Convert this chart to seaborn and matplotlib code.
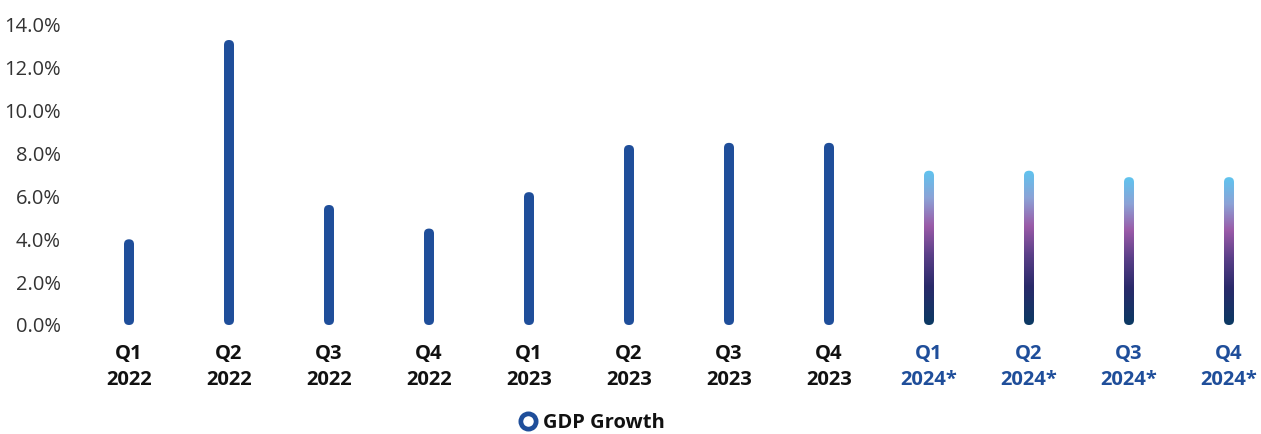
import numpy as np
import pandas as pd
import matplotlib
matplotlib.use("Agg")
import matplotlib.pyplot as plt
import seaborn as sns
from matplotlib.patches import FancyBboxPatch
from matplotlib.colors import LinearSegmentedColormap
from matplotlib.lines import Line2D

# Quarterly GDP growth (%), 2024 values are forecasts
quarters = ["Q1", "Q2", "Q3", "Q4"] * 3
years = ["2022"] * 4 + ["2023"] * 4 + ["2024*"] * 4
growth = [4.0, 13.3, 5.6, 4.5, 6.2, 8.4, 8.5, 8.5, 7.2, 7.2, 6.9, 6.9]
forecast = [False] * 8 + [True] * 4
y_ticks = [0, 2, 4, 6, 8, 10, 12, 14]

BLUE = "#1f4e9a"
TEXT = "#111111"

sns.set_theme(style="white")
plt.rcParams["font.family"] = ["Open Sans", "DejaVu Sans"]

df = pd.DataFrame({
    "label": [f"{q}\n{y}" for q, y in zip(quarters, years)],
    "growth": growth,
    "forecast": forecast,
})

W, H = 1261, 434
fig = plt.figure(figsize=(W / 100, H / 100), dpi=100)
ax = fig.add_axes([79 / W, (H - 325) / H, (W - 79) / W, 300 / H])

sns.barplot(data=df, x="label", y="growth", width=0.1, color=BLUE,
            saturation=1, ax=ax)

ax.set_xlim(-0.5, 11.32)
ax.set_ylim(0, 14)

# pixel scale used to keep the bar ends circular
px_x = (ax.get_xlim()[1] - ax.get_xlim()[0]) / (W - 79)
px_y = (ax.get_ylim()[1] - ax.get_ylim()[0]) / 300
aspect = px_y / px_x

grad = LinearSegmentedColormap.from_list(
    "fc", [(0.0, "#0b3a63"), (0.25, "#2a2a6a"), (0.45, "#5a3f88"),
           (0.64, "#9a5ba8"), (0.82, "#8ca2d6"), (1.0, "#5fc4ef")])

bars = list(ax.patches)
for bar, is_fc, val in zip(bars, df["forecast"], df["growth"]):
    x0, w, h = bar.get_x(), bar.get_width(), bar.get_height()
    bar.remove()
    rnd = FancyBboxPatch((x0, 0), w, h,
                         boxstyle=f"round,pad=0,rounding_size={w / 2}",
                         mutation_aspect=aspect,
                         facecolor=BLUE, edgecolor="none", clip_on=False)
    ax.add_patch(rnd)
    if is_fc:
        rnd.set_facecolor("none")
        img = ax.imshow(np.linspace(0, 1, 256).reshape(-1, 1), cmap=grad,
                        origin="lower", extent=[x0, x0 + w, 0, h],
                        aspect="auto", interpolation="bilinear", zorder=3)
        img.set_clip_path(rnd)

ax.set_xlim(-0.5, 11.32)
ax.set_ylim(0, 14)
ax.set_yticks(y_ticks)
ax.set_yticklabels([f"{v:.1f}%" for v in y_ticks], fontsize=14.5,
                   color="#333333", fontweight="normal")
ax.set_xticks(range(len(df)))
ax.set_xticklabels(df["label"], fontsize=14.5, fontweight="bold",
                   linespacing=1.4)
for lab, is_fc in zip(ax.get_xticklabels(), df["forecast"]):
    lab.set_color(BLUE if is_fc else TEXT)

ax.tick_params(axis="y", length=0, pad=13)
ax.tick_params(axis="x", length=0, pad=14)
ax.set_xlabel("")
ax.set_ylabel("")
sns.despine(ax=ax, left=True, bottom=True)
ax.grid(False)

handle = Line2D([], [], linestyle="none", marker="o", markersize=11,
                markerfacecolor="white", markeredgecolor=BLUE,
                markeredgewidth=3.4)
fig.legend([handle], ["GDP Growth"], loc="center",
           bbox_to_anchor=(0.469, 0.026), frameon=False,
           prop={"size": 14.5, "weight": "bold"}, handletextpad=0.25,
           handlelength=1.0, borderaxespad=0,
           labelcolor=TEXT)

fig.savefig("out.png", dpi=100)
